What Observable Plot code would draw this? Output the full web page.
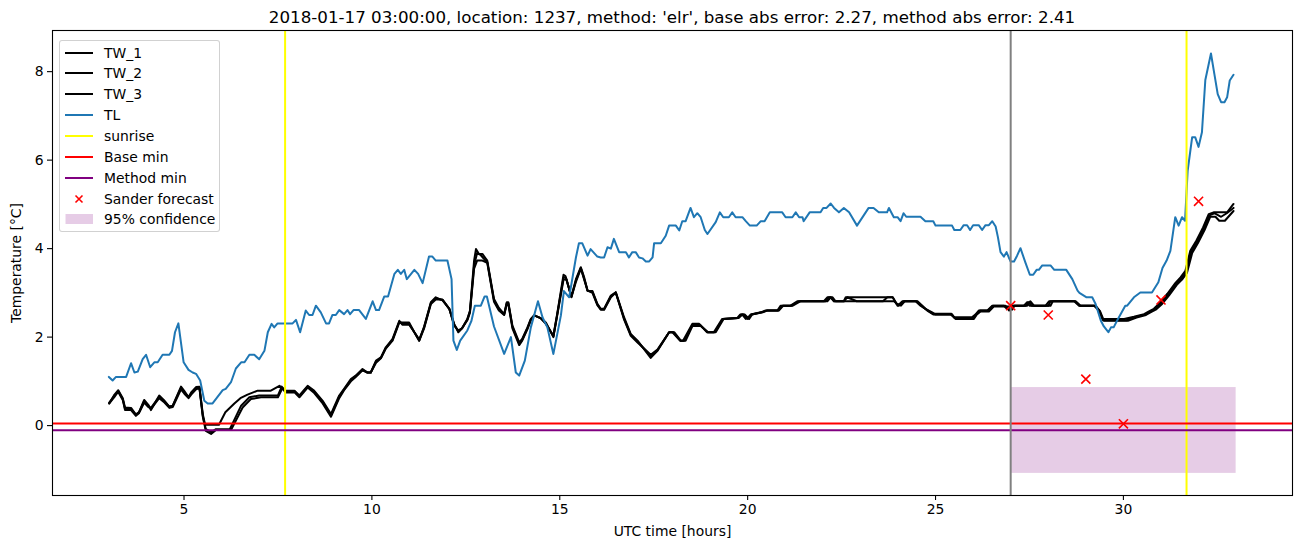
<!DOCTYPE html>
<html><head><meta charset="utf-8">
<script src="https://cdn.jsdelivr.net/npm/d3@7"></script>
<script src="https://cdn.jsdelivr.net/npm/@observablehq/plot@0.6"></script>
<style>
body{margin:0;background:#fff;font-family:"DejaVu Sans",sans-serif;}
#wrap{position:relative;width:1302px;height:547px;overflow:hidden;}
#title{position:absolute;left:52px;width:1240px;top:0;height:29px;font-size:16.7px;line-height:16.7px;padding-top:9px;box-sizing:border-box;text-align:center;color:#000;white-space:nowrap;}
#chart{position:absolute;left:0;top:29px;}
#legend{position:absolute;left:59px;top:40px;width:161px;height:192px;box-sizing:border-box;border:1px solid rgba(204,204,204,0.9);border-radius:3px;background:rgba(255,255,255,0.8);}
.row{position:absolute;left:0;height:20px;line-height:20px;font-size:13.9px;white-space:nowrap;}
.row svg{position:absolute;left:4px;top:0;}
.row span{position:absolute;left:44px;top:0;}
</style></head>
<body>
<div id="wrap">
<div id="title"></div>
<div id="chart"></div>
<div id="legend"></div>
</div>
<script>
const titleText = "2018-01-17 03:00:00, location: 1237, method: 'elr', base abs error: 2.27, method abs error: 2.41";
const xLabel = "UTC time [hours]";
const yLabel = "Temperature [°C]";
const xTicks = [5, 10, 15, 20, 25, 30];
const yTicks = [0, 2, 4, 6, 8];

const sunrise = [7.69, 31.68];
const forecastStart = [27.0];
const baseMin = [0.05];
const methodMin = [-0.105];
const confidence = [{start: 27.0, end: 33.0, low: -1.08, high: 0.86}];
const sanderHours = [27, 28, 29, 30, 31, 32];
const sanderTemp = [2.71, 2.50, 1.05, 0.04, 2.84, 5.07];

const TL = [[3.00,1.10],[3.10,1.02],[3.19,1.10],[3.46,1.10],[3.59,1.41],[3.68,1.20],[3.77,1.22],[3.90,1.50],[3.99,1.60],[4.10,1.32],[4.21,1.43],[4.30,1.43],[4.43,1.60],[4.61,1.60],[4.68,1.69],[4.76,2.11],[4.85,2.31],[4.99,1.43],[5.12,1.26],[5.23,1.20],[5.32,1.17],[5.43,1.02],[5.54,0.56],[5.63,0.50],[5.76,0.50],[6.03,0.80],[6.11,0.83],[6.25,0.98],[6.38,1.29],[6.52,1.43],[6.61,1.43],[6.74,1.60],[6.87,1.60],[7.00,1.50],[7.14,1.69],[7.23,2.11],[7.33,2.30],[7.40,2.22],[7.49,2.31],[7.89,2.31],[7.98,2.39],[8.09,2.11],[8.24,2.60],[8.33,2.50],[8.42,2.50],[8.51,2.71],[8.64,2.56],[8.78,2.31],[8.86,2.31],[8.95,2.50],[9.04,2.50],[9.13,2.61],[9.26,2.52],[9.35,2.61],[9.42,2.52],[9.51,2.61],[9.66,2.61],[9.84,2.41],[10.02,2.81],[10.11,2.61],[10.19,2.61],[10.33,2.92],[10.43,2.92],[10.60,3.43],[10.69,3.52],[10.77,3.43],[10.86,3.52],[10.93,3.31],[11.13,3.52],[11.23,3.43],[11.35,3.22],[11.52,3.82],[11.61,3.82],[11.70,3.73],[12.01,3.73],[12.12,3.31],[12.17,1.92],[12.26,1.71],[12.35,1.92],[12.54,2.15],[12.65,2.37],[12.74,2.71],[12.90,2.71],[13.00,2.92],[13.06,2.92],[13.25,2.24],[13.52,1.62],[13.70,2.00],[13.83,1.20],[13.92,1.13],[14.07,1.47],[14.23,2.22],[14.42,2.81],[14.54,2.45],[14.67,2.22],[14.83,1.62],[15.03,2.49],[15.11,3.04],[15.25,2.90],[15.43,3.80],[15.51,4.12],[15.60,4.12],[15.74,3.84],[15.82,3.99],[16.00,3.82],[16.09,3.80],[16.18,3.80],[16.27,4.03],[16.36,4.00],[16.44,4.22],[16.58,3.92],[16.76,3.92],[16.84,3.80],[16.93,3.92],[17.02,3.92],[17.11,3.80],[17.20,3.78],[17.29,3.71],[17.38,3.71],[17.47,3.80],[17.51,4.12],[17.69,4.12],[17.82,4.29],[17.91,4.52],[18.09,4.52],[18.18,4.41],[18.26,4.62],[18.35,4.62],[18.48,4.92],[18.57,4.71],[18.66,4.80],[18.75,4.71],[18.86,4.42],[18.93,4.33],[19.15,4.60],[19.26,4.82],[19.35,4.71],[19.50,4.71],[19.59,4.82],[19.68,4.71],[19.86,4.71],[19.95,4.62],[20.06,4.52],[20.24,4.52],[20.35,4.62],[20.45,4.62],[20.59,4.82],[20.92,4.82],[21.01,4.71],[21.19,4.71],[21.28,4.82],[21.37,4.71],[21.46,4.71],[21.49,4.62],[21.65,4.82],[21.94,4.82],[22.01,4.92],[22.10,4.92],[22.21,5.02],[22.30,4.92],[22.43,4.82],[22.56,4.92],[22.70,4.82],[22.91,4.52],[23.22,4.92],[23.35,4.92],[23.49,4.82],[23.71,4.82],[23.76,4.92],[23.89,4.71],[23.99,4.71],[24.07,4.62],[24.15,4.80],[24.22,4.72],[24.60,4.72],[24.73,4.62],[24.94,4.62],[25.00,4.52],[25.44,4.52],[25.50,4.42],[25.66,4.42],[25.75,4.53],[25.84,4.53],[25.92,4.42],[26.00,4.53],[26.15,4.53],[26.24,4.42],[26.33,4.53],[26.42,4.53],[26.51,4.62],[26.60,4.50],[26.66,4.26],[26.73,3.92],[26.82,3.82],[26.89,3.92],[26.95,3.80],[27.00,3.71],[27.09,3.71],[27.17,3.84],[27.26,4.01],[27.39,3.69],[27.51,3.41],[27.60,3.41],[27.69,3.52],[27.75,3.52],[27.84,3.62],[28.06,3.62],[28.16,3.52],[28.48,3.52],[28.64,3.31],[28.78,3.05],[28.83,3.00],[29.02,2.90],[29.17,2.90],[29.26,2.75],[29.40,2.37],[29.48,2.24],[29.60,2.11],[29.67,2.22],[29.74,2.22],[29.83,2.37],[30.05,2.71],[30.10,2.71],[30.28,2.90],[30.45,3.01],[30.76,3.01],[30.93,3.24],[31.04,3.56],[31.15,3.73],[31.25,3.95],[31.38,4.71],[31.47,4.52],[31.56,4.71],[31.64,4.63],[31.71,5.76],[31.83,6.52],[31.91,6.52],[32.00,6.30],[32.09,6.63],[32.18,7.81],[32.33,8.41],[32.42,7.95],[32.51,7.49],[32.60,7.31],[32.69,7.31],[32.76,7.42],[32.83,7.80],[32.93,7.93]];

const TW_1 = [[3.01,0.50],[3.15,0.70],[3.25,0.80],[3.37,0.62],[3.43,0.41],[3.59,0.40],[3.72,0.25],[3.80,0.30],[3.94,0.58],[4.05,0.47],[4.12,0.35],[4.34,0.68],[4.48,0.56],[4.61,0.43],[4.70,0.45],[4.92,0.88],[5.01,0.78],[5.12,0.64],[5.19,0.75],[5.32,0.87],[5.41,0.88],[5.50,0.26],[5.56,0.02],[5.93,0.02],[6.10,0.30],[6.34,0.50],[6.50,0.62],[6.69,0.70],[6.96,0.79],[7.31,0.79],[7.54,0.90],[7.67,0.79],[7.94,0.79],[8.07,0.68],[8.29,0.90],[8.45,0.80],[8.69,0.56],[8.91,0.26],[9.13,0.68],[9.26,0.83],[9.44,1.05],[9.57,1.13],[9.75,1.28],[9.88,1.20],[9.97,1.20],[10.11,1.47],[10.24,1.54],[10.37,1.77],[10.55,1.96],[10.73,2.37],[10.81,2.28],[10.99,2.28],[11.13,2.11],[11.26,1.92],[11.39,2.24],[11.57,2.79],[11.70,2.90],[11.88,2.83],[12.06,2.64],[12.19,2.30],[12.30,2.11],[12.40,2.20],[12.54,2.41],[12.61,2.60],[12.72,3.73],[12.77,3.99],[12.85,3.88],[12.94,3.88],[13.07,3.73],[13.25,2.86],[13.38,2.66],[13.52,2.52],[13.59,2.79],[13.63,2.79],[13.74,2.26],[13.92,1.88],[14.00,1.96],[14.14,2.22],[14.23,2.41],[14.32,2.49],[14.49,2.43],[14.63,2.30],[14.83,2.03],[14.93,2.52],[15.10,3.41],[15.15,3.38],[15.31,2.92],[15.43,3.31],[15.56,3.58],[15.65,3.35],[15.74,3.05],[15.87,3.04],[16.00,2.75],[16.09,2.64],[16.18,2.64],[16.36,2.94],[16.49,3.01],[16.71,2.45],[16.89,2.07],[17.07,1.92],[17.42,1.53],[17.60,1.69],[17.91,2.11],[18.00,2.11],[18.20,1.92],[18.28,1.92],[18.53,2.30],[18.71,2.30],[18.92,2.11],[19.10,2.11],[19.32,2.41],[19.72,2.43],[19.80,2.51],[19.90,2.51],[20.00,2.41],[20.08,2.51],[20.35,2.56],[20.48,2.60],[20.79,2.60],[20.88,2.71],[21.14,2.71],[21.32,2.81],[22.03,2.81],[22.12,2.90],[22.21,2.90],[22.30,2.81],[22.56,2.81],[22.61,2.90],[23.63,2.90],[23.86,2.90],[23.99,2.71],[24.12,2.81],[24.47,2.81],[24.60,2.71],[24.73,2.64],[24.91,2.56],[25.00,2.51],[25.40,2.51],[25.49,2.45],[25.97,2.45],[26.06,2.51],[26.15,2.60],[26.38,2.60],[26.51,2.71],[26.82,2.71],[26.90,2.64],[27.04,2.71],[27.35,2.71],[27.44,2.79],[27.50,2.71],[27.93,2.71],[28.02,2.81],[28.69,2.81],[28.82,2.71],[29.22,2.71],[29.35,2.60],[29.44,2.41],[30.02,2.41],[30.28,2.46],[30.55,2.52],[30.68,2.58],[30.81,2.64],[30.99,2.79],[31.17,2.98],[31.38,3.22],[31.52,3.35],[31.65,3.50],[31.78,3.95],[31.94,4.18],[32.12,4.48],[32.27,4.78],[32.40,4.82],[32.76,4.82],[32.93,5.01]];

const TW_2 = [[3.01,0.50],[3.15,0.65],[3.25,0.78],[3.37,0.60],[3.43,0.35],[3.59,0.35],[3.72,0.22],[3.80,0.28],[3.94,0.52],[4.05,0.42],[4.12,0.38],[4.34,0.62],[4.48,0.52],[4.61,0.40],[4.70,0.42],[4.92,0.82],[5.01,0.72],[5.12,0.62],[5.19,0.70],[5.32,0.82],[5.41,0.85],[5.50,0.20],[5.58,-0.12],[5.72,-0.19],[5.85,-0.10],[6.25,-0.10],[6.56,0.41],[6.78,0.60],[7.05,0.64],[7.50,0.64],[7.62,0.85],[7.70,0.75],[7.94,0.75],[8.07,0.64],[8.29,0.86],[8.45,0.75],[8.69,0.50],[8.91,0.20],[9.13,0.62],[9.26,0.80],[9.44,1.00],[9.57,1.10],[9.75,1.25],[9.88,1.20],[9.97,1.20],[10.11,1.42],[10.24,1.52],[10.37,1.74],[10.55,1.92],[10.73,2.33],[10.81,2.33],[10.99,2.33],[11.13,2.11],[11.26,1.92],[11.39,2.20],[11.57,2.75],[11.70,2.85],[11.88,2.85],[12.06,2.64],[12.19,2.26],[12.30,2.15],[12.40,2.20],[12.54,2.38],[12.61,2.55],[12.72,3.55],[12.80,3.73],[12.94,3.73],[13.07,3.68],[13.25,2.80],[13.38,2.60],[13.52,2.50],[13.59,2.75],[13.63,2.75],[13.74,2.20],[13.92,1.82],[14.00,1.92],[14.14,2.18],[14.23,2.38],[14.32,2.49],[14.49,2.43],[14.63,2.33],[14.83,2.00],[14.93,2.48],[15.10,3.30],[15.18,3.30],[15.31,2.90],[15.43,3.25],[15.56,3.55],[15.65,3.30],[15.74,3.05],[15.87,3.00],[16.00,2.72],[16.09,2.62],[16.18,2.62],[16.36,2.90],[16.49,3.01],[16.71,2.40],[16.89,2.03],[17.07,1.88],[17.42,1.60],[17.60,1.72],[17.91,2.11],[18.05,2.11],[18.22,1.92],[18.35,1.92],[18.53,2.25],[18.75,2.25],[18.95,2.11],[19.15,2.11],[19.36,2.41],[19.76,2.43],[19.86,2.51],[19.95,2.41],[20.10,2.51],[20.40,2.56],[20.52,2.60],[20.83,2.60],[20.95,2.71],[21.20,2.71],[21.40,2.81],[22.12,2.81],[22.21,2.90],[22.30,2.81],[22.56,2.81],[22.65,2.90],[22.90,2.81],[23.90,2.81],[24.02,2.71],[24.15,2.81],[24.52,2.81],[24.65,2.71],[24.78,2.60],[24.95,2.51],[25.44,2.51],[25.53,2.41],[26.02,2.41],[26.10,2.51],[26.20,2.58],[26.42,2.58],[26.55,2.69],[26.95,2.69],[27.04,2.62],[27.10,2.71],[27.44,2.71],[27.52,2.81],[27.62,2.71],[28.06,2.71],[28.12,2.81],[28.73,2.81],[28.86,2.71],[29.26,2.71],[29.38,2.58],[29.48,2.37],[30.12,2.37],[30.35,2.44],[30.60,2.50],[30.72,2.56],[30.86,2.62],[31.03,2.75],[31.22,2.95],[31.42,3.18],[31.56,3.30],[31.69,3.45],[31.83,3.90],[31.98,4.12],[32.16,4.42],[32.31,4.72],[32.45,4.72],[32.55,4.63],[32.70,4.63],[32.93,4.85]];

const TW_3 = [[3.01,0.52],[3.15,0.68],[3.25,0.76],[3.37,0.58],[3.43,0.38],[3.59,0.38],[3.72,0.25],[3.80,0.30],[3.94,0.55],[4.05,0.45],[4.12,0.40],[4.34,0.65],[4.48,0.55],[4.61,0.42],[4.70,0.45],[4.92,0.85],[5.01,0.75],[5.12,0.65],[5.19,0.72],[5.32,0.85],[5.41,0.86],[5.50,0.22],[5.58,-0.08],[5.72,-0.15],[5.85,-0.08],[6.22,-0.08],[6.52,0.45],[6.74,0.64],[7.00,0.68],[7.50,0.68],[7.60,0.88],[7.70,0.78],[7.94,0.78],[8.07,0.66],[8.29,0.88],[8.45,0.78],[8.69,0.53],[8.91,0.23],[9.13,0.65],[9.26,0.82],[9.44,1.02],[9.57,1.12],[9.75,1.26],[9.88,1.20],[9.97,1.20],[10.11,1.45],[10.24,1.53],[10.37,1.75],[10.55,1.94],[10.73,2.35],[10.81,2.30],[10.99,2.30],[11.13,2.11],[11.26,1.95],[11.39,2.22],[11.57,2.77],[11.70,2.88],[11.88,2.84],[12.06,2.64],[12.19,2.28],[12.30,2.13],[12.40,2.20],[12.54,2.40],[12.61,2.58],[12.72,3.62],[12.80,3.90],[12.90,3.85],[13.00,3.75],[13.07,3.70],[13.25,2.83],[13.38,2.63],[13.52,2.51],[13.59,2.77],[13.63,2.77],[13.74,2.23],[13.92,1.85],[14.00,1.94],[14.14,2.20],[14.23,2.40],[14.32,2.49],[14.49,2.43],[14.63,2.31],[14.83,2.02],[14.93,2.50],[15.10,3.35],[15.16,3.35],[15.31,2.91],[15.43,3.28],[15.56,3.56],[15.65,3.32],[15.74,3.05],[15.87,3.02],[16.00,2.74],[16.09,2.63],[16.18,2.63],[16.36,2.92],[16.49,3.01],[16.71,2.42],[16.89,2.05],[17.07,1.90],[17.42,1.57],[17.60,1.70],[17.91,2.11],[18.02,2.11],[18.21,1.92],[18.31,1.92],[18.53,2.28],[18.73,2.28],[18.93,2.11],[19.12,2.11],[19.34,2.41],[19.74,2.43],[19.83,2.51],[19.92,2.51],[20.04,2.41],[20.12,2.51],[20.38,2.56],[20.50,2.60],[20.81,2.60],[20.92,2.71],[21.17,2.71],[21.36,2.81],[22.08,2.81],[22.16,2.90],[22.26,2.90],[22.34,2.81],[23.60,2.81],[23.72,2.90],[23.86,2.90],[23.96,2.76],[24.08,2.71],[24.18,2.81],[24.50,2.81],[24.62,2.71],[24.76,2.62],[24.93,2.53],[25.42,2.53],[25.51,2.43],[26.00,2.43],[26.08,2.51],[26.18,2.60],[26.40,2.60],[26.53,2.71],[26.86,2.71],[26.96,2.60],[27.06,2.71],[27.40,2.71],[27.48,2.79],[27.56,2.71],[28.00,2.71],[28.06,2.81],[28.71,2.81],[28.84,2.71],[29.24,2.71],[29.36,2.60],[29.46,2.38],[30.08,2.38],[30.30,2.45],[30.58,2.51],[30.70,2.57],[30.83,2.63],[31.01,2.77],[31.20,2.96],[31.40,3.20],[31.54,3.32],[31.67,3.48],[31.80,3.92],[31.96,4.15],[32.14,4.45],[32.29,4.75],[32.42,4.80],[32.60,4.72],[32.75,4.80],[32.93,4.92]];

const legendItems = [
  {label: "TW_1", kind: "line", color: "black"},
  {label: "TW_2", kind: "line", color: "black"},
  {label: "TW_3", kind: "line", color: "black"},
  {label: "TL", kind: "line", color: "#1f77b4"},
  {label: "sunrise", kind: "line", color: "yellow"},
  {label: "Base min", kind: "line", color: "red"},
  {label: "Method min", kind: "line", color: "purple"},
  {label: "Sander forecast", kind: "x", color: "red"},
  {label: "95% confidence", kind: "patch", color: "purple"}
];

document.getElementById("title").textContent = titleText;

const sander = sanderHours.map((h, i) => ({h, t: sanderTemp[i]}));
const px = d => d[0], py = d => d[1];
const LW = 2;

const chart = Plot.plot({
  width: 1302, height: 518,
  marginTop: 1, marginBottom: 52, marginLeft: 52, marginRight: 10,
  x: {domain: [1.5, 34.5]},
  y: {domain: [-1.58, 8.93]},
  style: {fontFamily: "'DejaVu Sans', sans-serif", fontSize: "13.9px", color: "black", background: "white", overflow: "visible"},
  marks: [
    Plot.rect(confidence, {x1: "start", x2: "end", y1: "low", y2: "high", fill: "purple", fillOpacity: 0.2}),
    Plot.line(TW_1, {x: px, y: py, stroke: "black", strokeWidth: LW}),
    Plot.line(TW_2, {x: px, y: py, stroke: "black", strokeWidth: LW}),
    Plot.line(TW_3, {x: px, y: py, stroke: "black", strokeWidth: LW}),
    Plot.line(TL, {x: px, y: py, stroke: "#1f77b4", strokeWidth: LW}),
    Plot.ruleX(sunrise, {stroke: "yellow", strokeWidth: LW}),
    Plot.ruleY(baseMin, {stroke: "red", strokeWidth: LW}),
    Plot.ruleY(methodMin, {stroke: "purple", strokeWidth: LW}),
    Plot.ruleX(forecastStart, {stroke: "grey", strokeWidth: LW}),
    Plot.dot(sander, {x: "h", y: "t", symbol: "times", stroke: "red", strokeWidth: 1.6, r: 4.2}),
    Plot.frame({stroke: "black", strokeWidth: 1.1}),
    Plot.axisX({ticks: xTicks, tickSize: 5, tickPadding: 4, strokeWidth: 1.1, tickFormat: d => String(d), label: xLabel, labelAnchor: "center", labelArrow: "none", labelOffset: 40}),
    Plot.axisY({ticks: yTicks, tickSize: 5, tickPadding: 4, strokeWidth: 1.1, tickFormat: d => String(d), label: yLabel, labelAnchor: "center", labelArrow: "none", labelOffset: 41})
  ]
});
document.getElementById("chart").appendChild(chart);

const legend = document.getElementById("legend");
legendItems.forEach((it, i) => {
  const row = document.createElement("div");
  row.className = "row";
  row.style.top = (1.5 + i * 20.87) + "px";
  let sw;
  if (it.kind === "line") sw = `<svg width="30" height="20"><line x1="1" x2="29" y1="10" y2="10" stroke="${it.color}" stroke-width="2"/></svg>`;
  else if (it.kind === "x") sw = `<svg width="30" height="20"><path d="M11.5,6.5L18.5,13.5M18.5,6.5L11.5,13.5" stroke="${it.color}" stroke-width="1.6"/></svg>`;
  else sw = `<svg width="30" height="20"><rect x="1.5" y="5" width="27.5" height="10" fill="${it.color}" fill-opacity="0.2"/></svg>`;
  row.innerHTML = sw + `<span>${it.label}</span>`;
  legend.appendChild(row);
});
</script>
</body></html>
